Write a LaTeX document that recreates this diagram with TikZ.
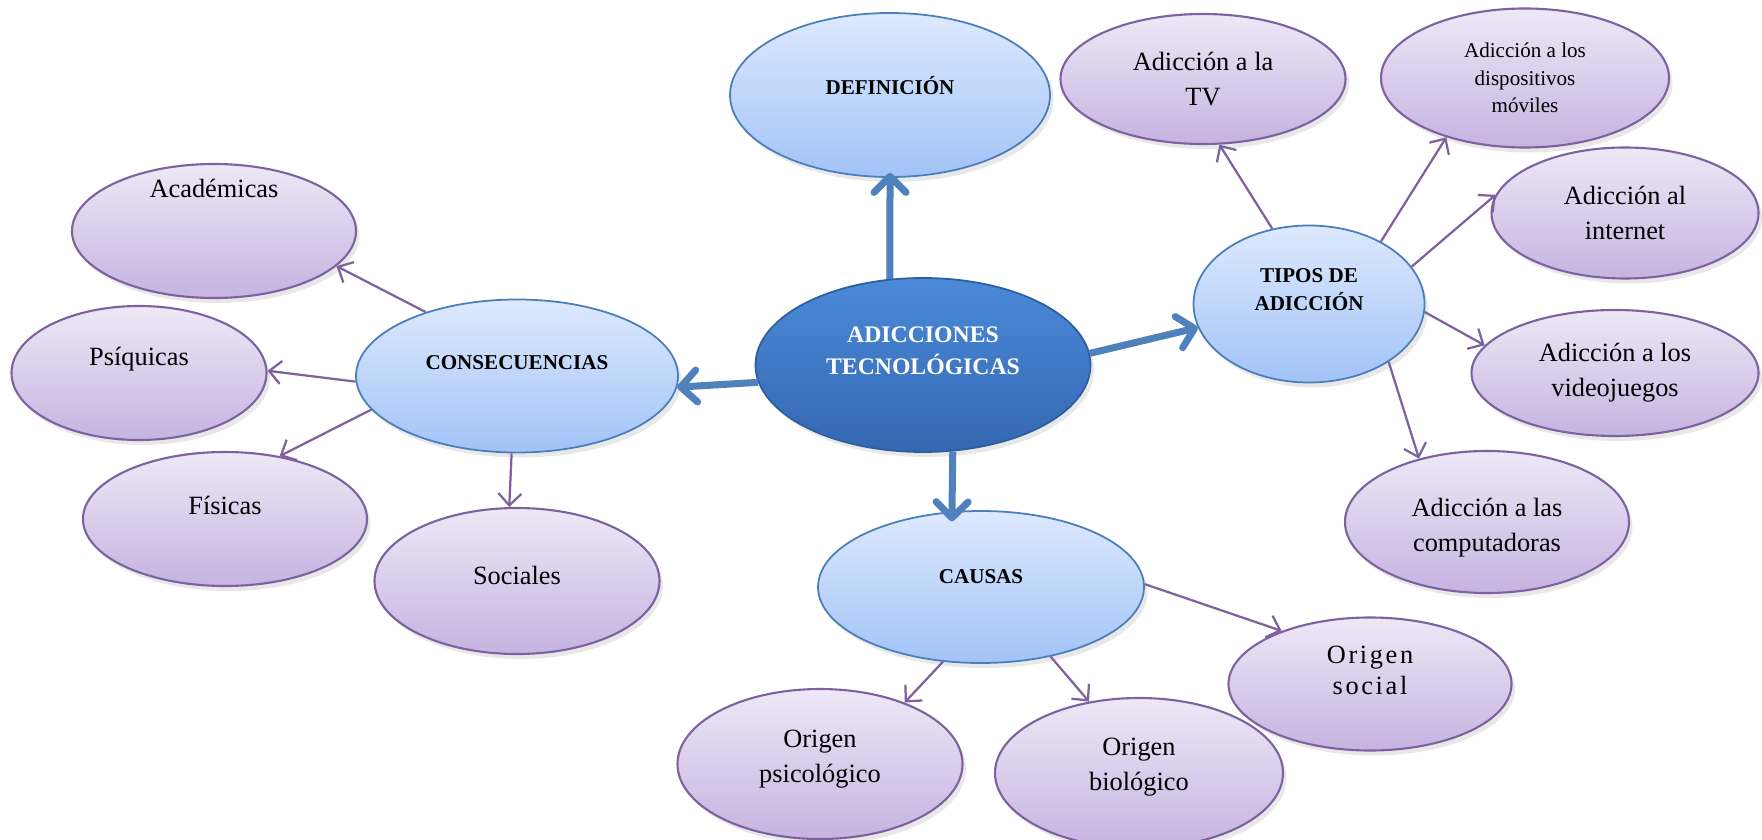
\documentclass[tikz,border=0pt]{standalone}
\usepackage{fontspec}
\setmainfont{Liberation Serif}
\usetikzlibrary{shapes,arrows.meta,positioning,shadows}

\definecolor{maintop}{HTML}{4A8AD8}
\definecolor{mainbot}{HTML}{3467B2}
\definecolor{mainline}{HTML}{2E5E9E}
\definecolor{topictop}{HTML}{DDE9FD}
\definecolor{topicbot}{HTML}{A2C3F7}
\definecolor{topicline}{HTML}{4A7EBB}
\definecolor{itemtop}{HTML}{EEE8F6}
\definecolor{itembot}{HTML}{C6B3E1}
\definecolor{itemline}{HTML}{7E62A0}
\definecolor{arrowblue}{HTML}{4F81BD}

\begin{document}
\begin{tikzpicture}[
    x = 0.2mm, y = -0.2mm,
    softshadow/.style = {drop shadow={opacity=0.18, shadow xshift=0.7mm, shadow yshift=-1mm}},
    main/.style = {ellipse, draw=mainline, line width=1pt, top color=maintop, bottom color=mainbot, minimum width=67mm, minimum height=34.8mm, softshadow},
    topic/.style = {ellipse, draw=topicline, line width=1pt, top color=topictop, bottom color=topicbot, softshadow},
    item/.style = {ellipse, draw=itemline, line width=1.2pt, top color=itemtop, bottom color=itembot, minimum width=57mm, minimum height=27mm, softshadow},
    maintxt/.style = {align=center, text=white, font=\fontsize{13.5}{18}\selectfont\bfseries},
    topictxt/.style = {align=center, font=\fontsize{12}{16}\selectfont\bfseries},
    itemtxt/.style = {align=center, font=\fontsize{15}{20}\selectfont},
    smalltxt/.style = {align=center, font=\fontsize{12}{15.5}\selectfont},
    spacedtxt/.style = {align=center, font=\fontsize{15}{18}\selectfont\addfontfeature{LetterSpace=10}},
    bigarrow/.style = {draw=arrowblue, line width=1.4mm, -{Straight Barb[round, length=3.2mm, width=6.4mm]}},
    smallarrow/.style = {draw=itemline, line width=0.45mm, -{Straight Barb[length=2.4mm, width=4.6mm]}}
]
    \path[use as bounding box, fill=white] (0,0) rectangle (1762,840);

    % Center
    \node[main, label={[maintxt, yshift=2.8mm]center:ADICCIONES\\TECNOLÓGICAS}] (central) at (923,365) {};

    % Main topics
    \node[topic, minimum width=64mm, minimum height=32.8mm, label={[topictxt, yshift=1.8mm]center:DEFINICIÓN}] (def) at (890,95) {};
    \node[topic, minimum width=64.4mm, minimum height=30.6mm, label={[topictxt, yshift=2.7mm]center:CONSECUENCIAS}] (cons) at (517,376) {};
    \node[topic, minimum width=46.2mm, minimum height=31.4mm, label={[topictxt, yshift=2.9mm]center:TIPOS DE\\ADICCIÓN}] (tipos) at (1309,304) {};
    \node[topic, minimum width=65.2mm, minimum height=30.4mm, label={[topictxt, yshift=2.1mm]center:CAUSAS}] (causas) at (981,587) {};

    % Consecuencias
    \node[item, minimum width=56.8mm, minimum height=26.8mm, label={[itemtxt, yshift=8.5mm]center:Académicas}] (acad) at (214,231) {};
    \node[item, minimum width=51mm, minimum height=26.8mm, label={[itemtxt, yshift=2.7mm]center:Psíquicas}] (psiq) at (139,373) {};
    \node[item, minimum width=56.8mm, minimum height=26.8mm, label={[itemtxt, yshift=2.7mm]center:Físicas}] (fis) at (225,519) {};
    \node[item, minimum width=57mm, minimum height=29.2mm, label={[itemtxt, yshift=1.1mm]center:Sociales}] (soc) at (517,581) {};

    % Tipos de adiccion
    \node[item, minimum width=57mm, minimum height=26mm, label={[itemtxt]center:Adicción a la\\TV}] (tv) at (1203,79) {};
    \node[item, minimum width=57.6mm, minimum height=27.8mm, label={[smalltxt]center:Adicción a los\\dispositivos\\móviles}] (mov) at (1525,78) {};
    \node[item, minimum width=53.4mm, minimum height=26.2mm, label={[itemtxt]center:Adicción al\\internet}] (inet) at (1625,213) {};
    \node[item, minimum width=57.4mm, minimum height=25.2mm, label={[itemtxt]center:Adicción a los\\videojuegos}] (video) at (1615,373) {};
    \node[item, minimum width=56.8mm, minimum height=28.4mm, label={[itemtxt, yshift=-1.1mm]center:Adicción a las\\computadoras}] (comp) at (1487,522) {};

    % Causas
    \node[item, minimum width=56.6mm, minimum height=26.6mm, label={[spacedtxt, yshift=2.7mm]center:Origen\\social}] (osoc) at (1370,684) {};
    \node[item, minimum width=57mm, minimum height=30mm, label={[itemtxt, yshift=0.9mm]center:Origen\\psicológico}] (opsi) at (820,764) {};
    \node[item, minimum width=57.6mm, minimum height=30mm, label={[itemtxt, yshift=1.1mm]center:Origen\\biológico}] (obio) at (1139,773) {};

    % Arrows from the center
    \draw[bigarrow, shorten >=-1mm] (central.111) -- (def.south);
    \draw[bigarrow] (central.186) -- (cons.-4);
    \draw[bigarrow] (central.4) -- (tipos.192);
    \draw[bigarrow, shorten >=-2mm] (central.-71) -- (causas.111);

    % Arrows to consecuencias
    \draw[smallarrow] (cons.145) -- (acad.-16);
    \draw[smallarrow] (cons.182) -- (psiq.1);
    \draw[smallarrow] (cons.193) -- (fis.49);
    \draw[smallarrow] (cons.-94) -- (soc.96);

    % Arrows to tipos
    \draw[smallarrow] (tipos.116) -- (tv.-76);
    \draw[smallarrow] (tipos.41) -- (mov.-143);
    \draw[smallarrow] (tipos.20) -- (inet.172);
    \draw[smallarrow] (tipos.-4) -- (video.168);
    \draw[smallarrow] (tipos.-36) -- (comp.137);

    % Arrows to causas
    \draw[smallarrow] (causas.1) -- (osoc.149);
    \draw[smallarrow] (causas.-117) -- (opsi.36);
    \draw[smallarrow] (causas.-45) -- (obio.125);

\end{tikzpicture}
\end{document}
